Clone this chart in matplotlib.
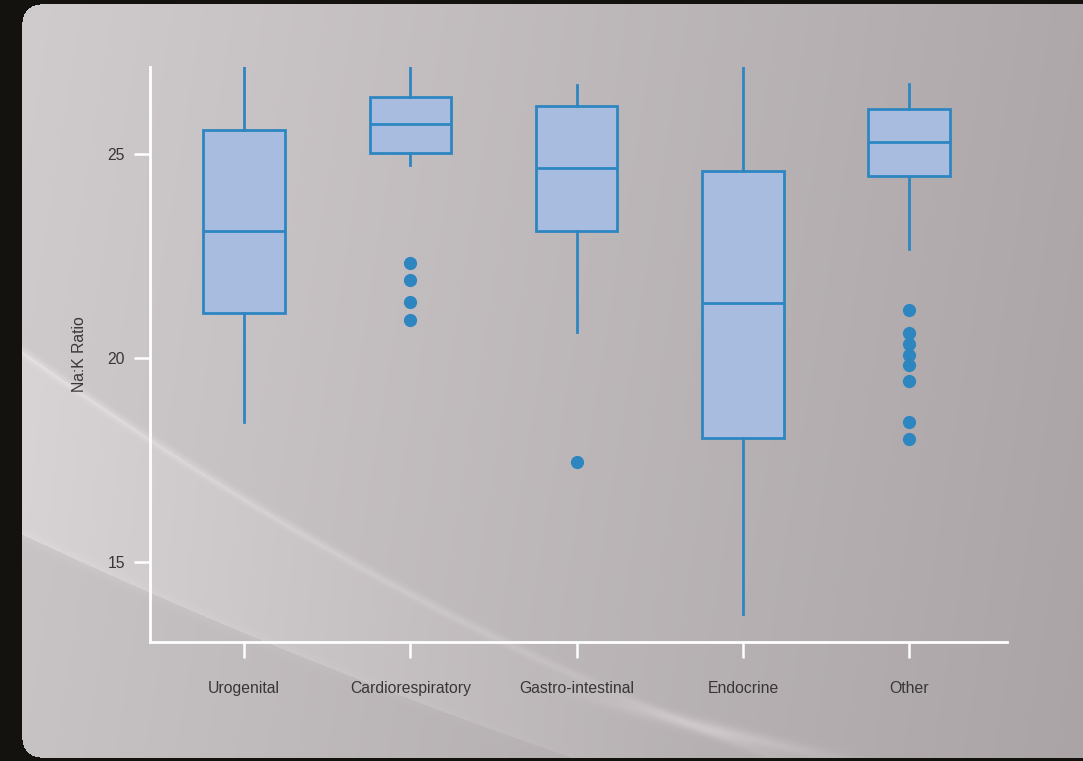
import numpy as np
import matplotlib
matplotlib.use("Agg")
import matplotlib.pyplot as plt

# ---------------- data ----------------
categories = ["Urogenital", "Cardiorespiratory", "Gastro-intestinal", "Endocrine", "Other"]
whisker_low = [18.43, 24.73, 20.64, 13.73, 22.66]
q1 = [21.10, 25.02, 23.11, 18.04, 24.47]
medians = [23.11, 25.74, 24.66, 21.35, 25.28]
q3 = [25.59, 26.40, 26.18, 24.58, 26.10]
whisker_high = [27.13, 27.13, 26.69, 27.13, 26.72]
outliers = [
    [],
    [22.33, 21.91, 21.37, 20.93],
    [17.45],
    [],
    [21.18, 20.61, 20.34, 20.08, 19.82, 19.44, 18.44, 18.01],
]
y_ticks = [15, 20, 25]
y_label = "Na:K Ratio"

# ---------------- figure & background ----------------
W, H = 1083, 761
fig = plt.figure(figsize=(W / 100, H / 100), dpi=100)

bg = fig.add_axes([0, 0, 1, 1], zorder=-10)
bg.set_axis_off()

xx, yy = np.meshgrid(np.arange(W), np.arange(H))
t = np.clip((xx - 22) / (W - 22), 0, 1)
light = np.array([204, 199, 201], float)
dark = np.array([170, 164, 166], float)
img = light[None, None, :] * (1 - t[..., None]) + dark[None, None, :] * t[..., None]
img += (1 - yy[..., None] / H) * 4

# smooth decorative swoosh curves
cu = np.polyfit([22, 152, 340, 491, 700, 1000], [347, 443, 560, 633, 723, 830], 2)
cl = np.polyfit([22, 200, 446, 700], [533, 617, 710, 800], 2)
yu = np.polyval(cu, xx)
yl = np.polyval(cl, xx)
fade = np.clip(1 - (xx - 22) / 650, 0, 1)
band = (yy > yu) & (yy < yl)
img[band] += (10 * fade[band])[:, None]
below = yy >= yl
img[below] -= 5
streak = np.exp(-((yy - yu) / 5.0) ** 2) * (5 + 8 * np.clip(1 - (xx - 22) / 900, 0, 1))
img += streak[..., None]
streak2 = np.exp(-((yy - yl) / 6.0) ** 2) * 5 * fade
img += streak2[..., None]
cs = np.polyfit([560, 660, 800, 1083], [688, 712, 752, 800], 2)
ys = np.polyval(cs, xx)
img += (np.exp(-((yy - ys) / 7.0) ** 2) * 20 * np.clip(1 - np.abs(xx - 720) / 180, 0, 1))[..., None]

# frame with rounded corner
frame = np.array([20, 18, 14], float)
r = 18
inside = (xx >= 22) & (yy >= 4) & (yy <= 757)
corner_tl = (xx < 22 + r) & (yy < 4 + r) & ((xx - (22 + r)) ** 2 + (yy - (4 + r)) ** 2 > r ** 2)
corner_bl = (xx < 22 + r) & (yy > 757 - r) & ((xx - (22 + r)) ** 2 + (yy - (757 - r)) ** 2 > r ** 2)
inside &= ~corner_tl & ~corner_bl
img[~inside] = frame
img = np.clip(img, 0, 255).astype(np.uint8)
bg.imshow(img, extent=[0, W, H, 0], aspect="auto", interpolation="bilinear")
bg.set_xlim(0, W)
bg.set_ylim(H, 0)

# ---------------- main axes ----------------
ax = fig.add_axes([150 / W, 1 - 642 / H, (1007 - 150) / W, (642 - 67) / H])
ax.patch.set_alpha(0)

stats = []
for i, name in enumerate(categories):
    stats.append(dict(label=name, whislo=whisker_low[i], q1=q1[i], med=medians[i],
                      q3=q3[i], whishi=whisker_high[i], fliers=outliers[i]))

blue = "#2e86c1"
ax.bxp(stats, positions=range(len(categories)), widths=0.49, patch_artist=True,
       showcaps=False,
       boxprops=dict(facecolor="#a7bcdf", edgecolor=blue, linewidth=2.0),
       medianprops=dict(color=blue, linewidth=2.0),
       whiskerprops=dict(color=blue, linewidth=2.0),
       flierprops=dict(marker="o", markerfacecolor=blue, markeredgecolor=blue, markersize=8.5))

ax.set_xlim(-0.565, 4.588)
ax.set_ylim(13.04, 27.13)
ax.set_yticks(y_ticks)
ax.set_xticks(range(len(categories)))
ax.set_xticklabels(categories)

for s in ["top", "right"]:
    ax.spines[s].set_visible(False)
for s in ["left", "bottom"]:
    ax.spines[s].set_color("white")
    ax.spines[s].set_linewidth(2.0)

txt = "#383637"
font = "Liberation Sans"
ax.tick_params(axis="both", direction="out", color="white", width=1.8, length=11.5,
               labelcolor=txt, labelsize=11.3)
ax.tick_params(axis="x", pad=16.5)
ax.tick_params(axis="y", pad=6.5)
for lab in ax.get_xticklabels() + ax.get_yticklabels():
    lab.set_fontfamily(font)
ax.set_ylabel(y_label, fontsize=11.3, color=txt, family=font, labelpad=15)

fig.savefig("out.png", dpi=100)
